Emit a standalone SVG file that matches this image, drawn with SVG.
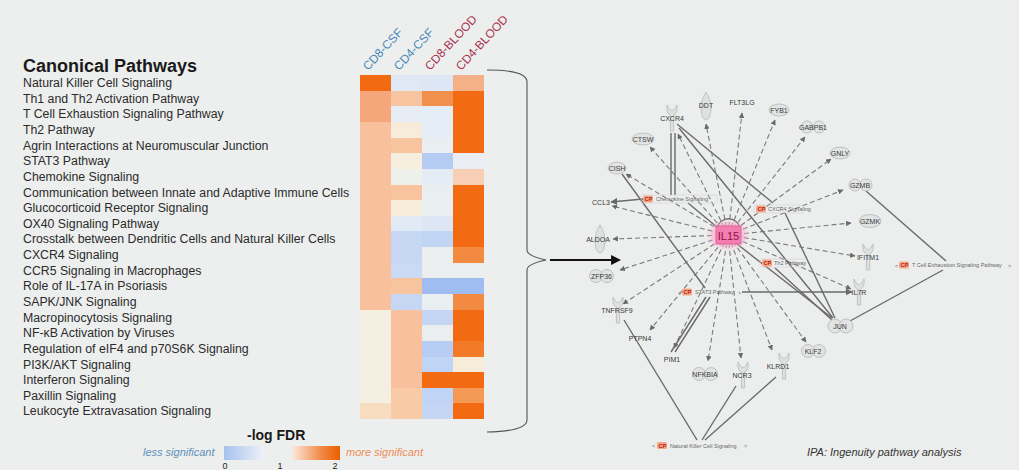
<svg xmlns="http://www.w3.org/2000/svg" xmlns:xlink="http://www.w3.org/1999/xlink" width="1019" height="470" viewBox="0 0 1019 470">
<style>
.lbl{font-family:"Liberation Sans",Arial,sans-serif;font-size:12.3px;fill:#2b2b2b}
.hdr{font-family:"Liberation Sans",Arial,sans-serif;font-size:12px}
.gn{font-family:"Liberation Sans",Arial,sans-serif;font-size:7px;fill:#3a3a3a;text-anchor:middle}
.cpt{font-family:"Liberation Sans",Arial,sans-serif;font-size:5.5px;fill:#666}
.cpr{font-family:"Liberation Sans",Arial,sans-serif;font-size:5.5px;fill:#b02010;font-weight:bold}
.dash{stroke:#7a7a7a;stroke-width:1.1;stroke-dasharray:5 3;fill:none}
.sol{stroke:#6a6a6a;stroke-width:1.4;fill:none}
.ov{fill:#e2e4e3;stroke:#b4b6b5;stroke-width:0.8}
.rec{fill:#dfe1e0;stroke:#b8baba;stroke-width:0.8}
</style>
<defs>
<marker id="ah" viewBox="0 0 10 10" refX="9" refY="5" markerWidth="5" markerHeight="5" orient="auto"><path d="M0,0 L10,5 L0,10 z" fill="#6a6a6a"/></marker>
<marker id="bah" viewBox="0 0 10 10" refX="8" refY="5" markerWidth="4.5" markerHeight="4.5" orient="auto"><path d="M0,0 L10,5 L0,10 z" fill="#111"/></marker>
<linearGradient id="gb" x1="0" x2="1" y1="0" y2="0"><stop offset="0" stop-color="#a6c1ee"/><stop offset="1" stop-color="#eef1f8"/></linearGradient>
<linearGradient id="go" x1="0" x2="1" y1="0" y2="0"><stop offset="0" stop-color="#fbe9dc"/><stop offset="0.6" stop-color="#f28a48"/><stop offset="1" stop-color="#e96000"/></linearGradient>
<radialGradient id="glow"><stop offset="0.5" stop-color="#f7b0cc"/><stop offset="1" stop-color="#f7b0cc" stop-opacity="0"/></radialGradient>
<path id="rc" d="M-5,-13 Q-6,-5 -1.6,-3 L-1.6,13 L1.6,13 L1.6,-3 Q6,-5 5,-13 Q3,-8 0,-7 Q-3,-8 -5,-13 z"/>
<path id="dr" d="M0,-14 Q6,-4 5,4 Q4,13 0,14 Q-4,13 -5,4 Q-6,-4 0,-14 z"/>
</defs>
<rect x="0" y="0" width="1019" height="470" fill="#eceeed"/>
<rect x="7" y="30" width="520" height="440" fill="#edefee"/>

<g id="title"><text x="23" y="72" style="font-family:'Liberation Sans',Arial,sans-serif;font-size:18px;font-weight:bold;fill:#1a1a1a">Canonical Pathways</text></g>

<g id="row-labels">
<text class="lbl" x="23" y="87">Natural Killer Cell Signaling</text>
<text class="lbl" x="23" y="102.6">Th1 and Th2 Activation Pathway</text>
<text class="lbl" x="23" y="118.3">T Cell Exhaustion Signaling Pathway</text>
<text class="lbl" x="23" y="133.9">Th2 Pathway</text>
<text class="lbl" x="23" y="149.5">Agrin Interactions at Neuromuscular Junction</text>
<text class="lbl" x="23" y="165.2">STAT3 Pathway</text>
<text class="lbl" x="23" y="180.8">Chemokine Signaling</text>
<text class="lbl" x="23" y="196.5">Communication between Innate and Adaptive Immune Cells</text>
<text class="lbl" x="23" y="212.1">Glucocorticoid Receptor Signaling</text>
<text class="lbl" x="23" y="227.7">OX40 Signaling Pathway</text>
<text class="lbl" x="23" y="243.4">Crosstalk between Dendritic Cells and Natural Killer Cells</text>
<text class="lbl" x="23" y="259">CXCR4 Signaling</text>
<text class="lbl" x="23" y="274.6">CCR5 Signaling in Macrophages</text>
<text class="lbl" x="23" y="290.3">Role of IL-17A in Psoriasis</text>
<text class="lbl" x="23" y="305.9">SAPK/JNK Signaling</text>
<text class="lbl" x="23" y="321.5">Macropinocytosis Signaling</text>
<text class="lbl" x="23" y="337.2">NF-κB Activation by Viruses</text>
<text class="lbl" x="23" y="352.8">Regulation of eIF4 and p70S6K Signaling</text>
<text class="lbl" x="23" y="368.5">PI3K/AKT Signaling</text>
<text class="lbl" x="23" y="384.1">Interferon Signaling</text>
<text class="lbl" x="23" y="399.7">Paxillin Signaling</text>
<text class="lbl" x="23" y="415.4">Leukocyte Extravasation Signaling</text>
</g>

<g id="column-headers">
<text class="hdr" fill="#4a88b8" transform="translate(368,71) rotate(-47)">CD8-CSF</text>
<text class="hdr" fill="#4a88b8" transform="translate(399,71) rotate(-47)">CD4-CSF</text>
<text class="hdr" fill="#a8324e" transform="translate(430,71) rotate(-47)">CD8-BLOOD</text>
<text class="hdr" fill="#a8324e" transform="translate(461,71) rotate(-47)">CD4-BLOOD</text>
</g>

<g id="heatmap" shape-rendering="crispEdges">
<rect x="360" y="75" width="31" height="15.8" fill="#f26b12"/>
<rect x="360" y="90.6" width="31" height="31.5" fill="#f5a77b"/>
<rect x="360" y="121.9" width="31" height="187.8" fill="#f8c09c"/>
<rect x="360" y="309.5" width="31" height="94.1" fill="#f4efe0"/>
<rect x="360" y="403.4" width="31" height="15.6" fill="#f8dcc0"/>
<rect x="391" y="75" width="31" height="15.8" fill="#e0e8f5"/>
<rect x="391" y="90.6" width="31" height="15.9" fill="#f8c4a0"/>
<rect x="391" y="106.3" width="31" height="15.8" fill="#e6edf5"/>
<rect x="391" y="121.9" width="31" height="15.8" fill="#f7ecda"/>
<rect x="391" y="137.5" width="31" height="15.9" fill="#f8c4a0"/>
<rect x="391" y="153.2" width="31" height="15.8" fill="#f6eedf"/>
<rect x="391" y="168.8" width="31" height="15.9" fill="#eef0ec"/>
<rect x="391" y="184.5" width="31" height="15.8" fill="#f8c4a0"/>
<rect x="391" y="200.1" width="31" height="15.8" fill="#f7ecda"/>
<rect x="391" y="215.7" width="31" height="15.9" fill="#e2eaf6"/>
<rect x="391" y="231.4" width="31" height="31.4" fill="#c6d7f3"/>
<rect x="391" y="262.6" width="31" height="15.9" fill="#cbdaf4"/>
<rect x="391" y="278.3" width="31" height="15.8" fill="#f8c4a0"/>
<rect x="391" y="293.9" width="31" height="15.8" fill="#c6d7f3"/>
<rect x="391" y="309.5" width="31" height="78.4" fill="#f8c09c"/>
<rect x="391" y="387.7" width="31" height="31.3" fill="#f8caa6"/>
<rect x="422" y="75" width="31" height="15.8" fill="#dde6f4"/>
<rect x="422" y="90.6" width="31" height="15.9" fill="#f0904c"/>
<rect x="422" y="106.3" width="31" height="31.4" fill="#e5edf6"/>
<rect x="422" y="137.5" width="31" height="15.9" fill="#e9eef2"/>
<rect x="422" y="153.2" width="31" height="15.8" fill="#b6cbf1"/>
<rect x="422" y="168.8" width="31" height="15.9" fill="#e4ecf6"/>
<rect x="422" y="184.5" width="31" height="31.4" fill="#e9eef1"/>
<rect x="422" y="215.7" width="31" height="15.9" fill="#dde6f4"/>
<rect x="422" y="231.4" width="31" height="15.8" fill="#c0d4f4"/>
<rect x="422" y="247" width="31" height="31.5" fill="#eaeeef"/>
<rect x="422" y="278.3" width="31" height="15.8" fill="#9fbdf0"/>
<rect x="422" y="293.9" width="31" height="15.8" fill="#e9eef0"/>
<rect x="422" y="309.5" width="31" height="15.9" fill="#c4d6f4"/>
<rect x="422" y="325.2" width="31" height="15.8" fill="#eaeeee"/>
<rect x="422" y="340.8" width="31" height="15.9" fill="#b8cdf3"/>
<rect x="422" y="356.5" width="31" height="15.8" fill="#c0d4f6"/>
<rect x="422" y="372.1" width="31" height="15.8" fill="#f26b12"/>
<rect x="422" y="387.7" width="31" height="15.9" fill="#c0d4f6"/>
<rect x="422" y="403.4" width="31" height="15.6" fill="#c4d6f4"/>
<rect x="453" y="75" width="31" height="15.8" fill="#f6b088"/>
<rect x="453" y="90.6" width="31" height="62.8" fill="#f26b12"/>
<rect x="453" y="153.2" width="31" height="15.8" fill="#eaeef4"/>
<rect x="453" y="168.8" width="31" height="15.9" fill="#f8cfb4"/>
<rect x="453" y="184.5" width="31" height="62.7" fill="#f26b12"/>
<rect x="453" y="247" width="31" height="15.8" fill="#f28a42"/>
<rect x="453" y="262.6" width="31" height="15.9" fill="#eaeeee"/>
<rect x="453" y="278.3" width="31" height="15.8" fill="#9fbdf0"/>
<rect x="453" y="293.9" width="31" height="15.8" fill="#f28a42"/>
<rect x="453" y="309.5" width="31" height="31.5" fill="#f26b12"/>
<rect x="453" y="340.8" width="31" height="15.9" fill="#f27a28"/>
<rect x="453" y="356.5" width="31" height="15.8" fill="#f7ecda"/>
<rect x="453" y="372.1" width="31" height="15.8" fill="#f26b12"/>
<rect x="453" y="387.7" width="31" height="15.9" fill="#f49a56"/>
<rect x="453" y="403.4" width="31" height="15.6" fill="#f26b12"/>
</g>

<g id="legend">
<text x="247" y="440" style="font-family:'Liberation Sans',Arial,sans-serif;font-size:14px;font-weight:bold;fill:#1a1a1a">-log FDR</text>
<text x="143" y="456" style="font-family:'Liberation Sans',Arial,sans-serif;font-size:11px;font-style:italic;fill:#5b8fb8">less significant</text>
<rect x="224" y="446" width="40" height="14" fill="url(#gb)"/>
<rect x="292" y="446" width="48" height="14" fill="url(#go)"/>
<text x="346" y="456" style="font-family:'Liberation Sans',Arial,sans-serif;font-size:11px;font-style:italic;fill:#ee8c58">more significant</text>
<text x="225" y="469" text-anchor="middle" style="font-family:'Liberation Sans',Arial,sans-serif;font-size:9px;fill:#222">0</text>
<text x="280" y="469" text-anchor="middle" style="font-family:'Liberation Sans',Arial,sans-serif;font-size:9px;fill:#222">1</text>
<text x="335" y="469" text-anchor="middle" style="font-family:'Liberation Sans',Arial,sans-serif;font-size:9px;fill:#222">2</text>
</g>

<g id="connectors">
<path d="M487,70 Q527,70 527,82 L527,250 Q527,256 546,260 Q527,264 527,270 L527,420 Q527,431 487,432" fill="none" stroke="#555" stroke-width="1.1"/>
<line x1="550" y1="260" x2="619" y2="260" stroke="#111" stroke-width="2.2" marker-end="url(#bah)"/>
<g class="dash">
<line x1="728" y1="235" x2="678" y2="134" marker-end="url(#ah)"/>
<line x1="728" y1="235" x2="706" y2="124" marker-end="url(#ah)"/>
<line x1="728" y1="235" x2="742" y2="113" marker-end="url(#ah)"/>
<line x1="728" y1="235" x2="775" y2="120" marker-end="url(#ah)"/>
<line x1="728" y1="235" x2="805" y2="137" marker-end="url(#ah)"/>
<line x1="728" y1="235" x2="831" y2="159" marker-end="url(#ah)"/>
<line x1="728" y1="235" x2="843" y2="190" marker-end="url(#ah)"/>
<line x1="728" y1="235" x2="851" y2="223" marker-end="url(#ah)"/>
<line x1="728" y1="235" x2="855" y2="256" marker-end="url(#ah)"/>
<line x1="728" y1="235" x2="851" y2="289" marker-end="url(#ah)"/>
<line x1="728" y1="235" x2="806" y2="342" marker-end="url(#ah)"/>
<line x1="728" y1="235" x2="772" y2="350" marker-end="url(#ah)"/>
<line x1="728" y1="235" x2="741" y2="358" marker-end="url(#ah)"/>
<line x1="728" y1="235" x2="708" y2="361" marker-end="url(#ah)"/>
<line x1="728" y1="235" x2="674" y2="348" marker-end="url(#ah)"/>
<line x1="728" y1="235" x2="650" y2="330" marker-end="url(#ah)"/>
<line x1="728" y1="235" x2="623" y2="304" marker-end="url(#ah)"/>
<line x1="728" y1="235" x2="620" y2="270" marker-end="url(#ah)"/>
<line x1="728" y1="235" x2="613" y2="239" marker-end="url(#ah)"/>
<line x1="728" y1="235" x2="612" y2="206" marker-end="url(#ah)"/>
<line x1="728" y1="235" x2="626" y2="174" marker-end="url(#ah)"/>
<line x1="728" y1="235" x2="650" y2="147" marker-end="url(#ah)"/>
</g>
<g class="sol">
<line x1="671" y1="133" x2="671" y2="195"/>
<line x1="675" y1="133" x2="675" y2="195"/>
<line x1="643" y1="199" x2="611" y2="202" marker-end="url(#ah)"/>
<line x1="688" y1="203" x2="718" y2="228"/>
<line x1="677" y1="124" x2="773" y2="203"/>
<line x1="679" y1="128" x2="833" y2="318"/>
<line x1="622" y1="174" x2="705" y2="288"/>
<line x1="785" y1="213" x2="835" y2="318"/>
<line x1="775" y1="268" x2="832" y2="320"/>
<line x1="737" y1="244" x2="832" y2="318"/>
<line x1="742" y1="292" x2="852" y2="292" marker-end="url(#ah)"/>
<line x1="706" y1="297" x2="671" y2="352"/>
<line x1="710" y1="297" x2="675" y2="352"/>
<line x1="943" y1="270" x2="850" y2="321"/>
<line x1="866" y1="191" x2="946" y2="261"/>
<line x1="697" y1="440" x2="624" y2="320"/>
<line x1="702" y1="440" x2="736" y2="386"/>
<line x1="705" y1="440" x2="776" y2="377"/>
</g>
<path d="M717,228 A12,13 0 0 1 740,228" class="sol" stroke-width="1"/>
</g>

<g id="IL15">
<ellipse cx="728" cy="235" rx="22" ry="16" fill="url(#glow)"/>
<rect x="716" y="226" width="25" height="18" fill="#f37cb0" stroke="#e05596" stroke-width="0.8"/>
<text x="728.5" y="239.5" text-anchor="middle" style="font-family:'Liberation Sans',Arial,sans-serif;font-size:11px;fill:#8e1044">IL15</text>
</g>

<g id="CXCR4"><use xlink:href="#rc" x="672" y="118" class="rec"/><text class="gn" x="672" y="120.5">CXCR4</text></g>
<g id="DDT"><use xlink:href="#dr" x="706" y="106" class="rec"/><text class="gn" x="706" y="108">DDT</text></g>
<g id="FLT3LG"><text class="gn" x="742" y="105">FLT3LG</text></g>
<g id="FYB1"><ellipse class="ov" cx="779" cy="110" rx="10" ry="6"/><text class="gn" x="779" y="112.5">FYB1</text></g>
<g id="GABPB1"><circle class="ov" cx="807" cy="127" r="6"/><circle class="ov" cx="819" cy="127" r="6"/><text class="gn" x="813" y="129.5">GABPB1</text></g>
<g id="GNLY"><ellipse class="ov" cx="840" cy="153" rx="10" ry="6"/><text class="gn" x="840" y="155.5">GNLY</text></g>
<g id="GZMB"><circle class="ov" cx="855" cy="185" r="6"/><circle class="ov" cx="866" cy="185" r="6"/><text class="gn" x="860" y="187.5">GZMB</text></g>
<g id="GZMK"><ellipse class="ov" cx="870" cy="221" rx="11" ry="6.5"/><text class="gn" x="870" y="223.5">GZMK</text></g>
<g id="IFITM1"><use xlink:href="#rc" x="868" y="257" class="rec"/><text class="gn" x="868" y="259.5">IFITM1</text></g>
<g id="IL7R"><use xlink:href="#rc" x="859" y="292" class="rec"/><text class="gn" x="859" y="294.5">IL7R</text></g>
<g id="JUN"><circle class="ov" cx="835" cy="326" r="7"/><circle class="ov" cx="846" cy="326" r="7"/><text class="gn" x="840" y="328.5">JUN</text></g>
<g id="KLF2"><circle class="ov" cx="808" cy="351" r="6.5"/><circle class="ov" cx="819" cy="351" r="6.5"/><text class="gn" x="813" y="353.5">KLF2</text></g>
<g id="KLRD1"><use xlink:href="#rc" x="784" y="366" class="rec"/><text class="gn" x="778" y="369">KLRD1</text></g>
<g id="NCR3"><use xlink:href="#rc" x="743" y="375" class="rec"/><text class="gn" x="742" y="378">NCR3</text></g>
<g id="NFKBIA"><circle class="ov" cx="699" cy="374" r="6.5"/><circle class="ov" cx="711" cy="374" r="6.5"/><text class="gn" x="705" y="376.5">NFKBIA</text></g>
<g id="PIM1"><text class="gn" x="672" y="362">PIM1</text></g>
<g id="PTPN4"><text class="gn" x="640" y="341">PTPN4</text></g>
<g id="TNFRSF"><use xlink:href="#rc" x="618" y="310" class="rec"/><text class="gn" x="617" y="312.5">TNFRSF9</text></g>
<g id="ZFP36"><circle class="ov" cx="596" cy="276" r="6.5"/><circle class="ov" cx="607" cy="276" r="6.5"/><text class="gn" x="601.5" y="278.5">ZFP36</text></g>
<g id="ALDOA"><use xlink:href="#dr" x="600" y="239" class="rec"/><text class="gn" x="598" y="241.5">ALDOA</text></g>
<g id="CCL3"><text class="gn" x="601" y="204.5">CCL3</text></g>
<g id="CISH"><ellipse class="ov" cx="617" cy="168" rx="9" ry="6"/><text class="gn" x="617" y="170.5">CISH</text></g>
<g id="CTSW"><ellipse class="ov" cx="643" cy="139" rx="11" ry="6"/><text class="gn" x="643" y="141.5">CTSW</text></g>

<g id="cp-chemokine">
<rect x="641" y="195" width="76" height="8" rx="2" fill="none" stroke="#cfcfcf" stroke-width="0.5"/>
<rect x="643" y="195.5" width="10" height="7" rx="1.5" fill="#f7a68a"/>
<text class="cpr" x="644.5" y="201">CP</text>
<text class="cpt" x="656" y="201">Chemokine Signaling</text>
</g>
<g id="cp-cxcr4">
<rect x="754" y="205" width="50" height="8" rx="2" fill="none" stroke="#cfcfcf" stroke-width="0.5"/>
<rect x="756" y="205.5" width="10" height="7" rx="1.5" fill="#f7a68a"/>
<text class="cpr" x="757.5" y="211">CP</text>
<text class="cpt" x="768" y="211">CXCR4 Signaling</text>
</g>
<g id="cp-th2">
<rect x="760" y="259" width="44" height="8" rx="2" fill="none" stroke="#cfcfcf" stroke-width="0.5"/>
<rect x="762" y="259.5" width="10" height="7" rx="1.5" fill="#f7a68a"/>
<text class="cpr" x="763.5" y="265">CP</text>
<text class="cpt" x="774" y="265">Th2 Pathway</text>
</g>
<g id="cp-stat3">
<text class="cpt" x="678" y="294.5">&lt;</text>
<rect x="682" y="288.5" width="10" height="7" rx="1.5" fill="#f7a68a"/>
<text class="cpr" x="683.5" y="294">CP</text>
<text class="cpt" x="695" y="294">STAT3 Pathway</text>
<text class="cpt" x="738" y="294.5">&gt;</text>
</g>
<g id="cp-tcell">
<text class="cpt" x="895" y="267.5">&lt;</text>
<rect x="899" y="261.5" width="10" height="7" rx="1.5" fill="#f7a68a"/>
<text class="cpr" x="900.5" y="267">CP</text>
<text class="cpt" x="912" y="267">T Cell Exhaustion Signaling Pathway</text>
<text class="cpt" x="1008" y="267.5">&gt;</text>
</g>
<g id="cp-nk">
<text class="cpt" x="652" y="448">&lt;</text>
<rect x="657" y="442" width="10" height="7" rx="1.5" fill="#f7a68a"/>
<text class="cpr" x="658.5" y="447.5">CP</text>
<text class="cpt" x="670" y="447.5">Natural Killer Cell Signaling</text>
<text class="cpt" x="744" y="448">&gt;</text>
</g>

<g id="footnote"><text x="807" y="456" style="font-family:'Liberation Sans',Arial,sans-serif;font-size:11px;font-style:italic;fill:#333">IPA: Ingenuity pathway analysis</text></g>
</svg>
